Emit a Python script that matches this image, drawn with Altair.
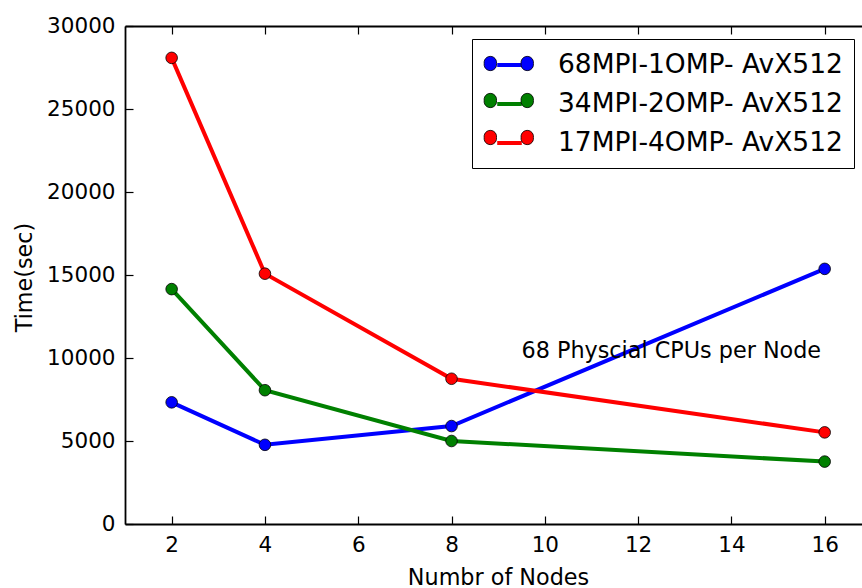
import altair as alt
import pandas as pd

# ---- data ----
nodes = [2, 4, 8, 16]
series_names = ["68MPI-1OMP- AvX512", "34MPI-2OMP- AvX512", "17MPI-4OMP- AvX512"]
time_68mpi_1omp = [7330, 4770, 5900, 15370]
time_34mpi_2omp = [14150, 8060, 5000, 3760]
time_17mpi_4omp = [28080, 15080, 8750, 5520]
series_colors = ["#0000ff", "#008000", "#ff0000"]

x_ticks = [2, 4, 6, 8, 10, 12, 14, 16]
y_ticks = [0, 5000, 10000, 15000, 20000, 25000, 30000]

note_text = ["68 Physcial CPUs per Node"]
note_x = [9.5]
note_y = [10000]

rows = []
for name, vals in zip(series_names, [time_68mpi_1omp, time_34mpi_2omp, time_17mpi_4omp]):
    for n, v in zip(nodes, vals):
        rows.append({"nodes": n, "time": v, "series": name, "marker_series": name})
df = pd.DataFrame(rows)
note_df = pd.DataFrame({"x": note_x, "y": note_y, "label": note_text})

FONT = "DejaVu Sans"
xscale = alt.Scale(domain=[1, 16.8], nice=False, zero=False)
yscale = alt.Scale(domain=[0, 30000], nice=False)

LEG_X = 347
LEG_Y = 13
common_leg = dict(
    title=None, orient="none", legendX=LEG_X, legendY=LEG_Y,
    symbolSize=676, labelFont=FONT, labelFontSize=26.5, labelOffset=45,
    padding=11, rowPadding=10, labelLimit=500,
)

# symbol unit = 13 px ; shapes shifted right so they span the reference's 51 px
line_legend = alt.Legend(
    symbolType="M-0.06,0L1.83,0", symbolStrokeWidth=4,
    strokeColor="black", labelColor="black", **common_leg,
)
dot_path = ("M-0.95,0A0.48,0.48 0 1,0 -0.0,0A0.48,0.48 0 1,0 -0.95,0Z"
            "M1.89,0A0.48,0.48 0 1,0 2.84,0A0.48,0.48 0 1,0 1.89,0Z")
dot_legend = alt.Legend(
    symbolType=dot_path, symbolStrokeWidth=0.8, symbolStrokeColor="black",
    labelExpr="''", **common_leg,
)

x_main_axis = alt.Axis(
    orient="bottom", values=x_ticks, ticks=False, domain=True, domainColor="black",
    domainWidth=1.8, labelFont=FONT, labelFontSize=21.5, labelColor="black",
    labelPadding=10, labelFlush=False, grid=False, format="d",
    title="Numbr of Nodes", titleFont=FONT, titleFontSize=22.3, titleFontWeight="normal",
    titleColor="black", titleX=373, titleY=60, titleBaseline="alphabetic", titleAlign="center",
)
y_main_axis = alt.Axis(
    orient="left", values=y_ticks, ticks=False, domain=True, domainColor="black",
    domainWidth=1.8, labelFont=FONT, labelFontSize=21.5, labelColor="black",
    labelPadding=10, grid=False, format="d",
    title="Time(sec)", titleFont=FONT, titleFontSize=22.3, titleFontWeight="normal",
    titleColor="black", titleX=-94, titleY=251, titleAngle=270,
    titleBaseline="alphabetic", titleAlign="center",
)

lines = alt.Chart(df).mark_line(strokeWidth=4).encode(
    x=alt.X("nodes:Q", scale=xscale, axis=x_main_axis),
    y=alt.Y("time:Q", scale=yscale, axis=y_main_axis),
    color=alt.Color("series:N", scale=alt.Scale(domain=series_names, range=series_colors),
                    legend=line_legend),
    detail="series:N",
)

points = alt.Chart(df).mark_point(
    filled=True, shape="circle", size=135, stroke="black", strokeWidth=0.8, opacity=1
).encode(
    x=alt.X("nodes:Q", scale=xscale, axis=None),
    y=alt.Y("time:Q", scale=yscale, axis=None),
    fill=alt.Fill("marker_series:N", scale=alt.Scale(range=series_colors),
                  sort=series_names, legend=dot_legend),
)

note = alt.Chart(note_df).mark_text(
    align="left", baseline="alphabetic", font=FONT, fontSize=22.3, color="black"
).encode(
    x=alt.X("x:Q", scale=xscale, axis=None),
    y=alt.Y("y:Q", scale=yscale, axis=None),
    text="label:N",
)

def tick_axis(orient, values):
    return alt.Axis(orient=orient, offset=-8, values=values, tickSize=8, tickWidth=1.2,
                    tickColor="black", labels=False, domain=False, title=None, grid=False)

ticks_bl = alt.Chart(df).mark_point(opacity=0).encode(
    x=alt.X("nodes:Q", scale=xscale, axis=tick_axis("bottom", x_ticks)),
    y=alt.Y("time:Q", scale=yscale, axis=tick_axis("left", y_ticks)),
)

top_frame = alt.Chart(df).mark_point(opacity=0).encode(
    x=alt.X("nodes:Q", scale=xscale, axis=alt.Axis(
        orient="top", ticks=False, labels=False, domain=True, domainColor="black",
        domainWidth=1.8, title=None, grid=False)),
    y=alt.Y("time:Q", scale=yscale, axis=None),
)

ticks_top = alt.Chart(df).mark_point(opacity=0).encode(
    x=alt.X("nodes:Q", scale=xscale, axis=tick_axis("top", x_ticks)),
    y=alt.Y("time:Q", scale=yscale, axis=None),
)

chart = alt.layer(lines, points, note, ticks_bl, top_frame, ticks_top).resolve_axis(
    x="independent", y="independent"
).properties(
    width=737, height=498,
    autosize=alt.AutoSizeParams(type="none"),
    padding={"left": 125, "top": 26, "right": 0, "bottom": 64},
    background="white",
).configure_view(stroke=None)

chart.save("out.html", embed_options={"renderer": "svg", "actions": False})
